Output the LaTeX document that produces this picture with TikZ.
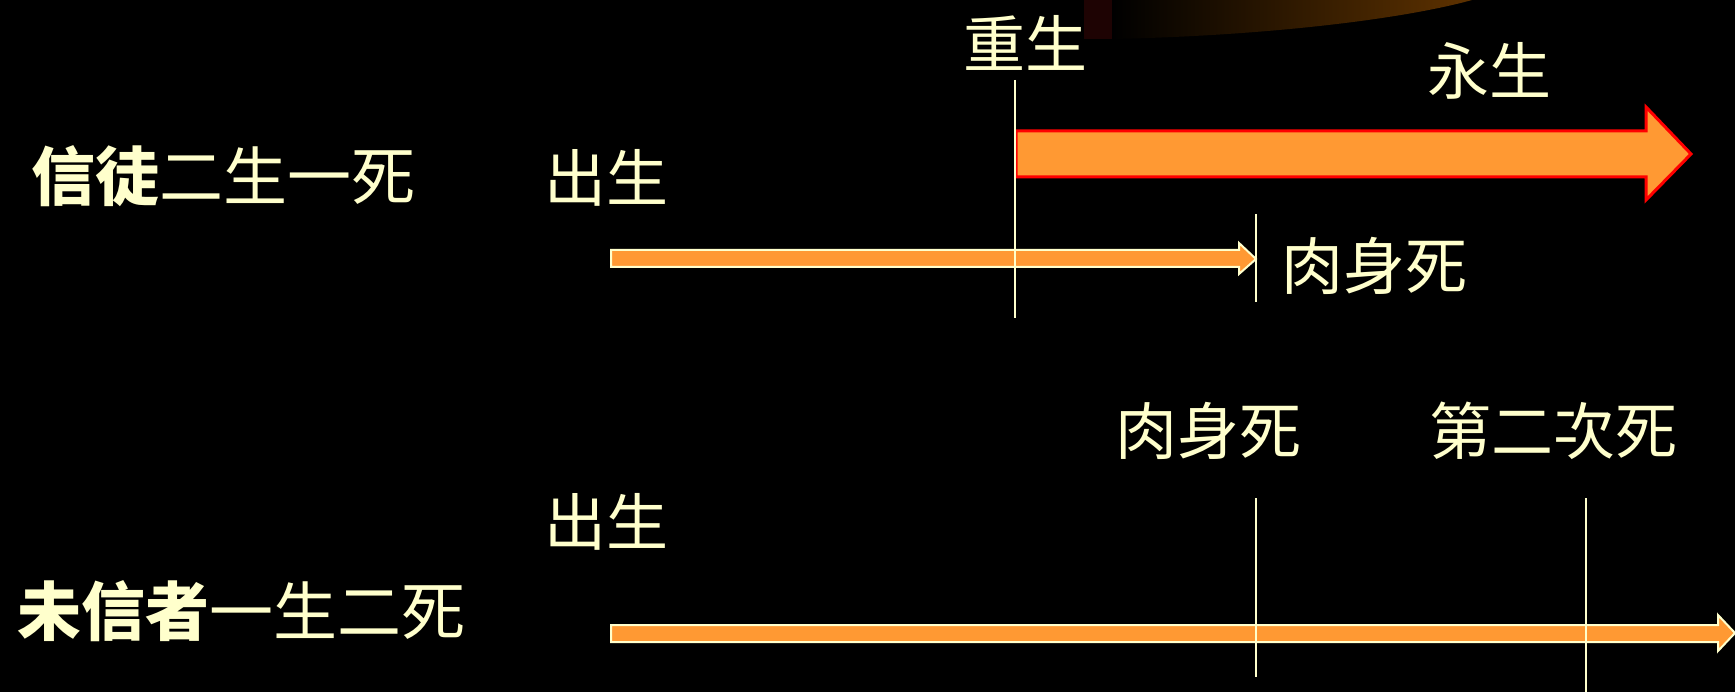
\documentclass[tikz,border=0pt]{standalone}
\usepackage{fontspec}
\setmainfont{Noto Sans CJK TC}
\definecolor{cream}{HTML}{FFFFCC}
\definecolor{orng}{HTML}{FF9933}
\definecolor{brn}{HTML}{5E3200}
\definecolor{maroon}{HTML}{1E0303}
\begin{document}
\begin{tikzpicture}[x=1pt,y=-1pt,
  lbl/.style={text=cream,inner sep=0pt,font=\fontsize{62}{62}\selectfont},
  biglbl/.style={text=cream,inner sep=0pt,font=\fontsize{64}{64}\selectfont},
  tickline/.style={draw=cream,line width=2.2pt},
  thinarrow/.style={fill=orng,draw=cream,line width=2pt,line join=miter},
  bigarrow/.style={fill=orng,draw=red,line width=3pt,line join=miter}]
\useasboundingbox (0,0) rectangle (1735,692);
\fill[black] (0,0) rectangle (1735,692);
% glow at top
\fill[maroon] (1084,0) rectangle (1112,39);
\shade[left color=black,right color=brn] (1112,0) -- (1112,39) .. controls (1260,36) and (1400,20) .. (1472,0) -- cycle;
% labels
\node[lbl] (rebirth) at (1025,43) {重生};
\node[lbl] (eternal) at (1489,71) {永生};
\node[biglbl,anchor=west] (believer) at (31,176) {{\bfseries 信徒}二生一死};
\node[lbl] (birth1) at (606,178) {出生};
\node[lbl] (death1) at (1374,266) {肉身死};
\node[lbl] (death2) at (1208,431) {肉身死};
\node[lbl] (second) at (1553,431) {第二次死};
\node[lbl] (birth2) at (606,522) {出生};
\node[biglbl,anchor=west] (unbeliever) at (17,611) {{\bfseries 未信者}一生二死};
% arrows
\draw[bigarrow] (1016,131) -- (1646,131) -- (1646,107) -- (1691,154) -- (1646,200) -- (1646,177) -- (1016,177) -- cycle;
\draw[thinarrow] (611,250) -- (1239,250) -- (1239,243) -- (1256,259) -- (1239,274) -- (1239,267) -- (611,267) -- cycle;
\draw[thinarrow] (611,625) -- (1718,625) -- (1718,615) -- (1735,633) -- (1718,651) -- (1718,642) -- (611,642) -- cycle;
% ticks
\coordinate (t1a) at (1015,80);  \coordinate (t1b) at (1015,318);
\coordinate (t2a) at (1256,214); \coordinate (t2b) at (1256,302);
\coordinate (t3a) at (1256,498); \coordinate (t3b) at (1256,677);
\coordinate (t4a) at (1586,498); \coordinate (t4b) at (1586,692);
\draw[tickline] (t1a) -- (t1b);
\draw[tickline] (t2a) -- (t2b);
\draw[tickline] (t3a) -- (t3b);
\draw[tickline] (t4a) -- (t4b);
\end{tikzpicture}
\end{document}
